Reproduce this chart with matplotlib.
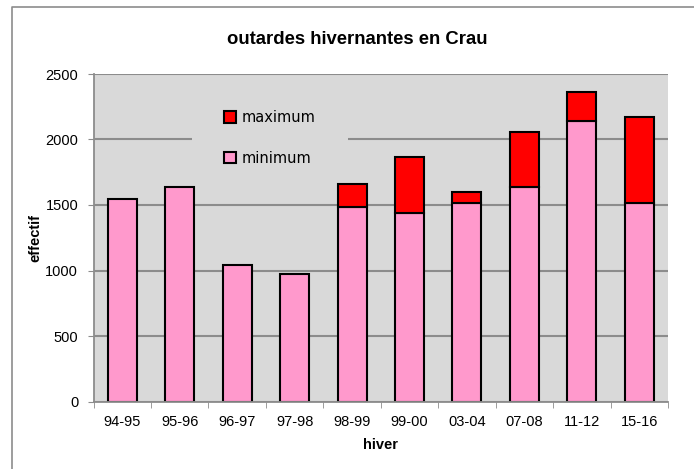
import numpy as np
import matplotlib
matplotlib.use("Agg")
import matplotlib.pyplot as plt
from matplotlib.lines import Line2D

hivers = ["94-95", "95-96", "96-97", "97-98", "98-99",
          "99-00", "03-04", "07-08", "11-12", "15-16"]
minimum = [1546, 1637, 1044, 973, 1482, 1439, 1513, 1640, 2139, 1515]
maximum = [None, None, None, None, 1660, 1866, 1602, 2055, 2363, 2172]
yticks = [0, 500, 1000, 1500, 2000, 2500]

plt.rcParams["font.family"] = ["Liberation Sans", "DejaVu Sans"]

fig = plt.figure(figsize=(6.94, 4.69), dpi=100)
ax = fig.add_axes([93.5 / 694, 67.5 / 469, 574.5 / 694, 327.5 / 469])

# outer chart frame: only its top and left edges fall inside the picture
fx, fy = 12 / 694, 1 - 7 / 469
fig.lines.append(Line2D([fx, fx, 1.0], [0.0, fy, fy], transform=fig.transFigure,
                        color="#8c8c8c", linewidth=1.2))

x = np.arange(len(hivers))
mins = np.array(minimum, dtype=float)
maxs = np.array([np.nan if v is None else v for v in maximum], dtype=float)

b_min = ax.bar(x, mins, width=0.505, color="#ff99cc",
               edgecolor="black", linewidth=1.5, label="minimum", zorder=2)
b_max = ax.bar(x, maxs - mins, bottom=mins, width=0.505, color="#ff0000",
               edgecolor="black", linewidth=1.5, label="maximum", zorder=2)

ax.set_facecolor("#d9d9d9")
ax.set_axisbelow(True)
ax.yaxis.grid(True, color="#8c8c8c", linewidth=1.5)
ax.set_xlim(-0.5, len(hivers) - 0.5)
ax.set_ylim(0, 2500)
ax.set_yticks(yticks)
ax.set_xticks(x)
ax.set_xticklabels(hivers)
ax.set_xticks(np.arange(-0.5, len(hivers)), minor=True)
ax.tick_params(axis="x", which="major", length=0, pad=10, labelsize=10.5)
ax.tick_params(axis="x", which="minor", length=4, color="#8c8c8c")
ax.tick_params(axis="y", length=4, color="#8c8c8c", pad=7, labelsize=10.5)

for side in ("top", "right"):
    ax.spines[side].set_visible(False)
for side in ("left", "bottom"):
    ax.spines[side].set_color("#8c8c8c")
    ax.spines[side].set_linewidth(1.3)
    ax.spines[side].set_zorder(3)

ax.set_xlabel("hiver", fontweight="bold", fontsize=10.5, labelpad=6)
ax.set_ylabel("effectif", fontweight="bold", fontsize=10.5, labelpad=2)
fig.text(357 / 694, 1 - 40 / 469, "outardes hivernantes en Crau",
         ha="center", va="center", fontweight="bold", fontsize=13.3)

leg = ax.legend([b_max, b_min], ["maximum", "minimum"], loc="center",
                bbox_to_anchor=(0.307, 0.805), frameon=True, fancybox=False,
                facecolor="#d9d9d9", edgecolor="none", framealpha=1,
                handlelength=0.8, handleheight=0.8, handletextpad=0.4,
                labelspacing=1.75, borderpad=2.2,
                prop={"family": "DejaVu Sans", "size": 10.5})
leg.set_zorder(1)
for h in leg.legend_handles:
    h.set_linewidth(1.5)

fig.savefig("out.png", dpi=100)
